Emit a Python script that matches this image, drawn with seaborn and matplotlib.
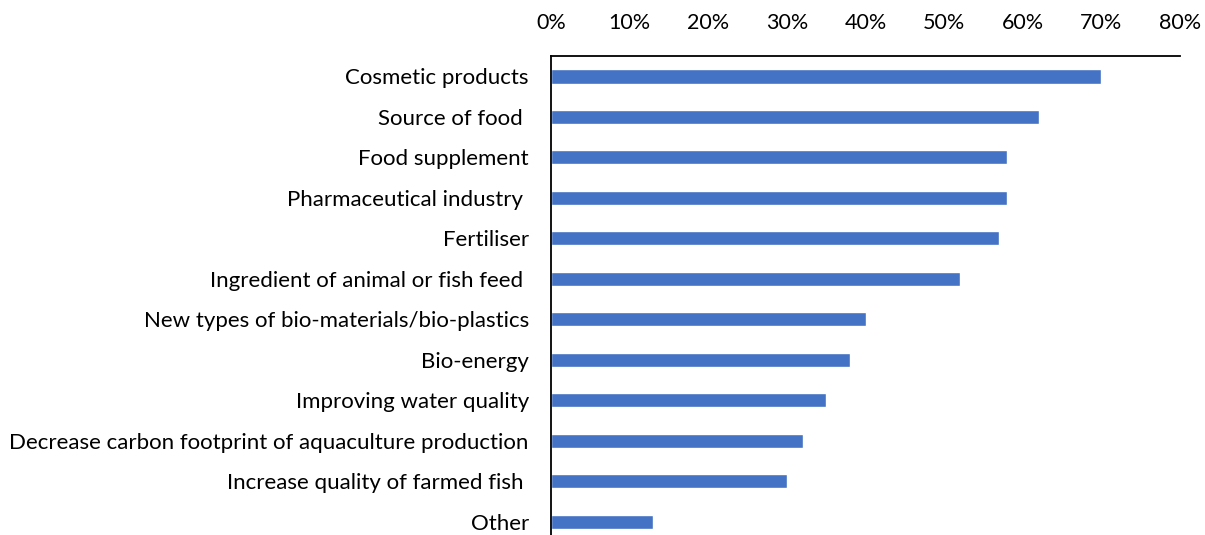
import matplotlib
matplotlib.use("Agg")
import matplotlib.pyplot as plt
import seaborn as sns
from matplotlib.ticker import PercentFormatter

CATEGORIES = [
    "Cosmetic products",
    "Source of food ",
    "Food supplement",
    "Pharmaceutical industry ",
    "Fertiliser",
    "Ingredient of animal or fish feed ",
    "New types of bio-materials/bio-plastics",
    "Bio-energy",
    "Improving water quality",
    "Decrease carbon footprint of aquaculture production",
    "Increase quality of farmed fish ",
    "Other",
]
SHARES = [70, 62, 58, 58, 57, 52, 40, 38, 35, 32, 30, 13]
X_TICKS = [0, 10, 20, 30, 40, 50, 60, 70, 80]

BAR_COLOR = "#4472C4"


def main() -> None:
    sns.set_theme(style="white")
    plt.rcParams["font.family"] = ["Lato", "DejaVu Sans"]

    fig = plt.figure(figsize=(12.05, 5.35), dpi=100)
    ax = fig.add_axes([0.4573, -0.013, 0.522, 0.908])

    sns.barplot(x=SHARES, y=CATEGORIES, color=BAR_COLOR, width=0.35,
                saturation=1, orient="h", ax=ax)

    ax.set_xlim(0, 80)
    ax.set_ylim(len(CATEGORIES) - 0.5, -0.5)
    ax.set_xticks(X_TICKS)
    ax.xaxis.set_major_formatter(PercentFormatter(decimals=0))
    ax.xaxis.tick_top()
    ax.tick_params(axis="x", length=0, pad=17, labelsize=15.5, colors="black")
    ax.tick_params(axis="y", length=0, pad=16, labelsize=16, colors="black")
    ax.set_xlabel("")
    ax.set_ylabel("")

    for side in ["right", "bottom"]:
        ax.spines[side].set_visible(False)
    for side in ["top", "left"]:
        ax.spines[side].set_color("black")
        ax.spines[side].set_linewidth(1.3)

    fig.savefig("out.png", dpi=100)


if __name__ == "__main__":
    main()
